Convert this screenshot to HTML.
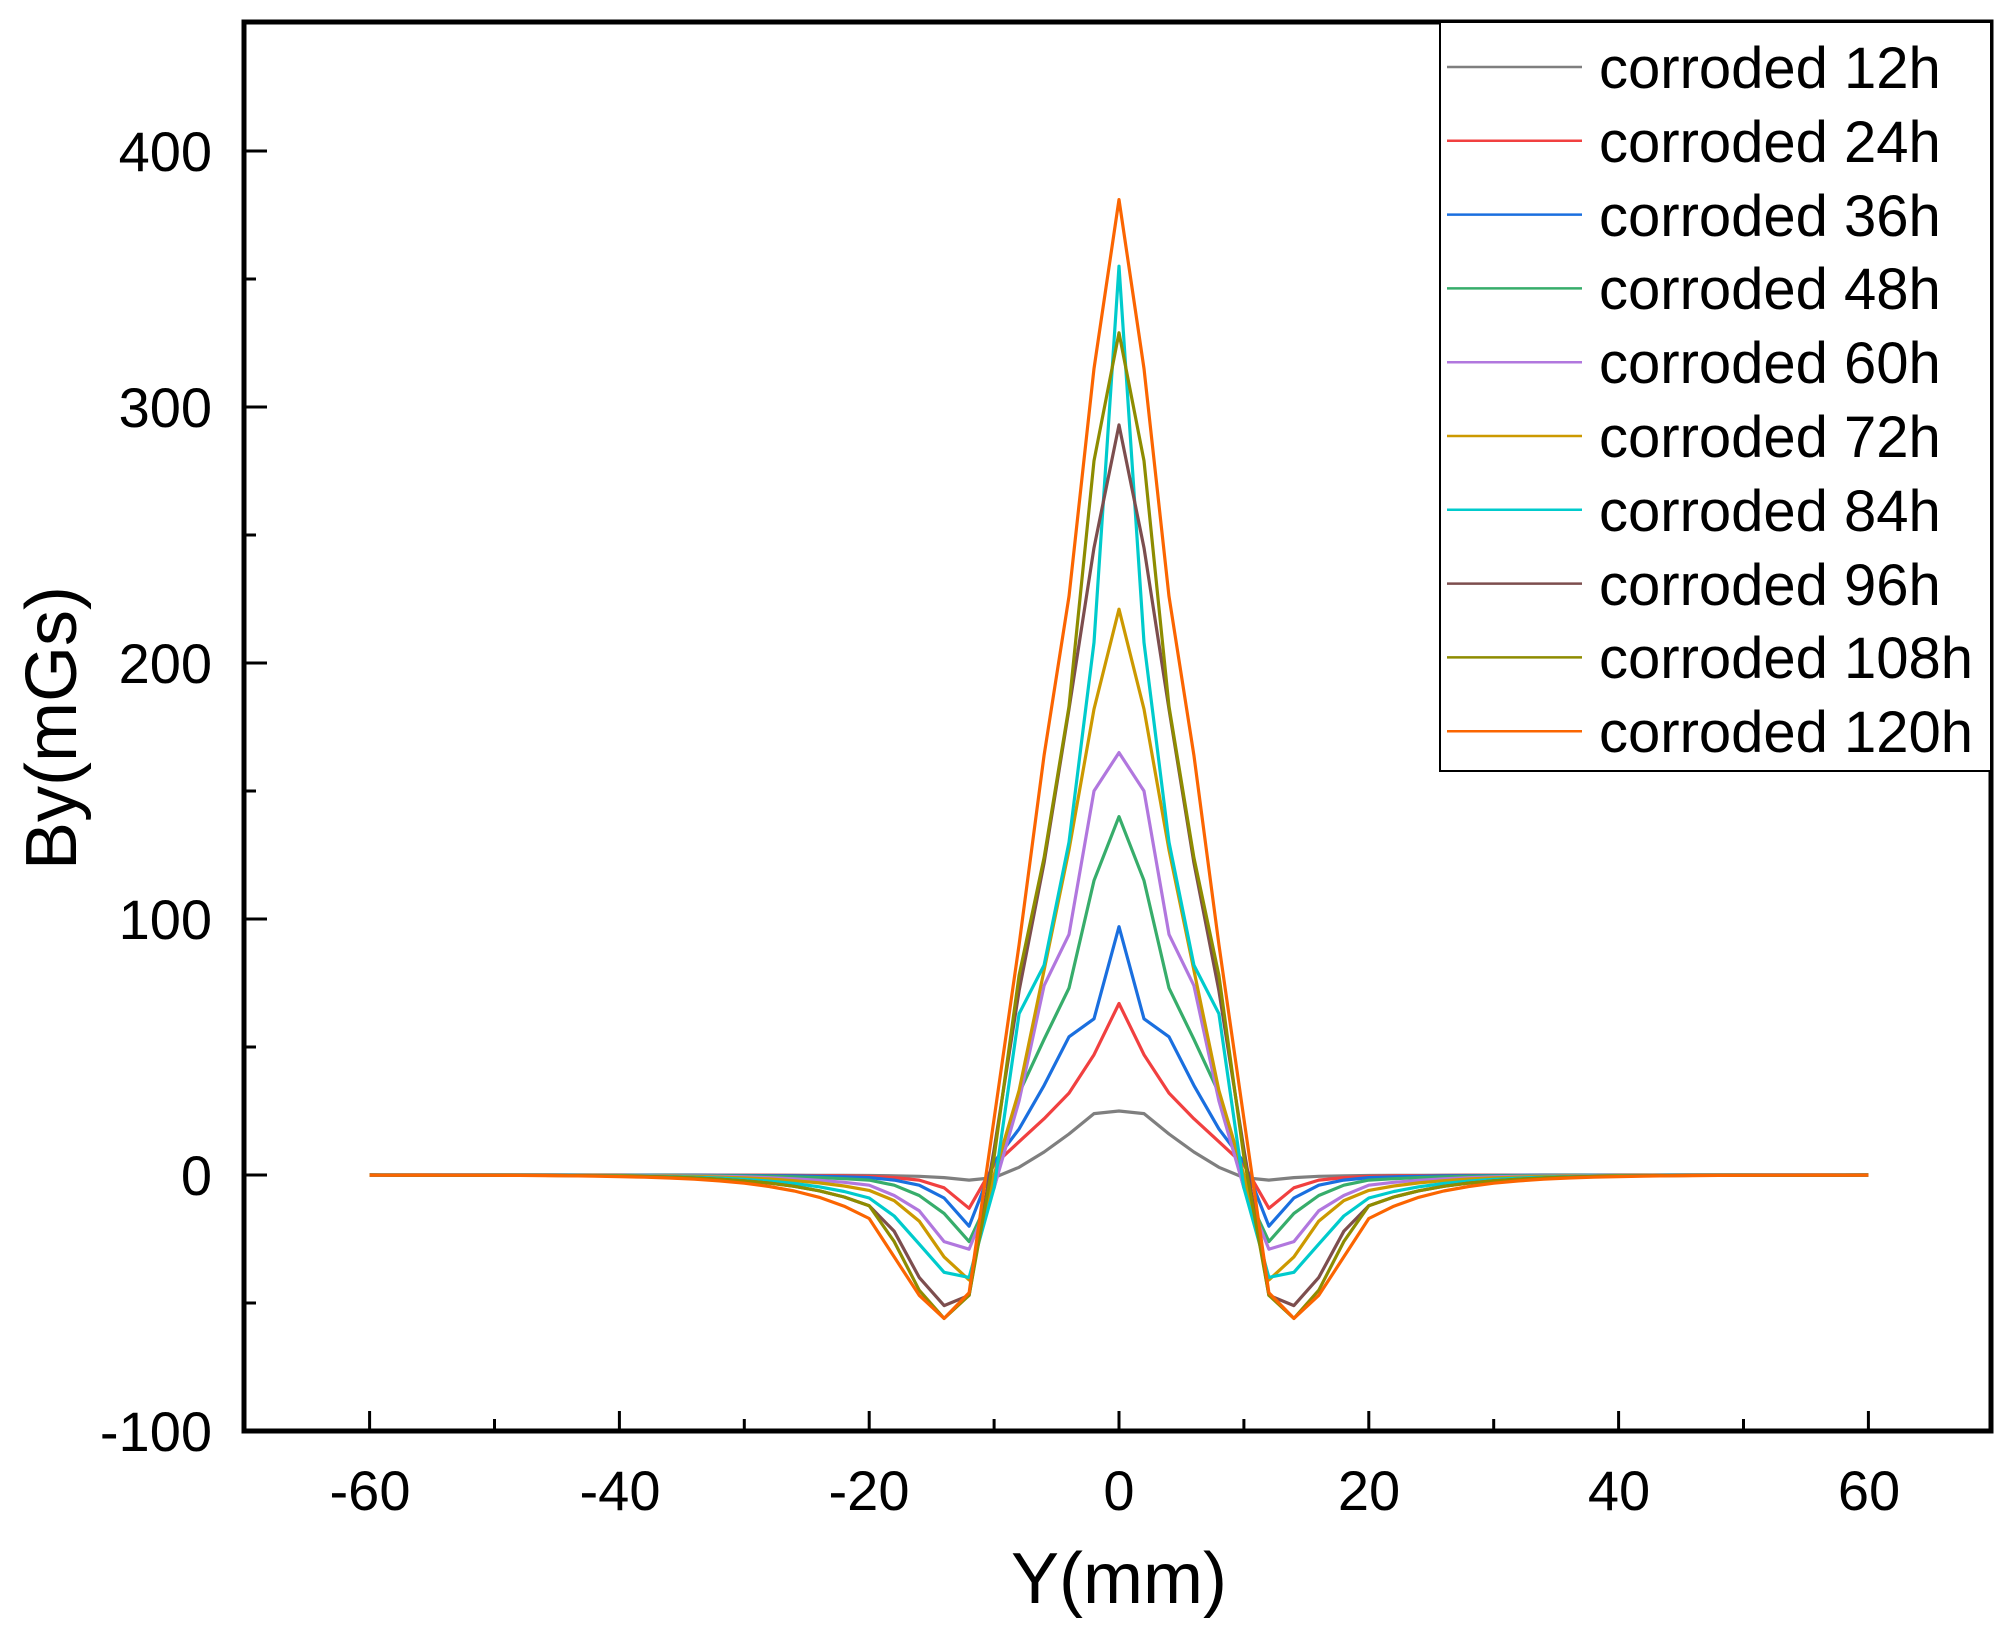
<!DOCTYPE html>
<html><head><meta charset="utf-8"><style>
html,body{margin:0;padding:0;background:#fff;}
svg{display:block;font-family:"Liberation Sans",Arial,sans-serif;}
</style></head><body>
<svg id="s" width="2014" height="1629" viewBox="0 0 2014 1629" xmlns="http://www.w3.org/2000/svg">
<rect width="2014" height="1629" fill="#fff"/>
<g id="series" fill="none" stroke-width="3.2" stroke-linejoin="round"></g>
<g id="ticks" stroke="#000" stroke-width="3"></g>
<rect x="244" y="22" width="1747" height="1409" fill="none" stroke="#000" stroke-width="5"/>
<g font-size="56" text-anchor="middle">
<text x="370" y="1510">-60</text>
<text x="620" y="1510">-40</text>
<text x="869" y="1510">-20</text>
<text x="1119" y="1510">0</text>
<text x="1369" y="1510">20</text>
<text x="1619" y="1510">40</text>
<text x="1869" y="1510">60</text>
</g>
<g font-size="56" text-anchor="end">
<text x="212" y="171">400</text>
<text x="212" y="427">300</text>
<text x="212" y="683">200</text>
<text x="212" y="939">100</text>
<text x="212" y="1195">0</text>
<text x="212" y="1451">-100</text>
</g>
<text x="1119" y="1603" font-size="72" text-anchor="middle">Y(mm)</text>
<text transform="translate(76,728) rotate(-90)" font-size="72" text-anchor="middle">By(mGs)</text>
<rect x="1440" y="22" width="551" height="749" fill="#fff" stroke="#000" stroke-width="2"/>
<g id="leg" font-size="58">
<text x="1599" y="88">corroded 12h</text>
<text x="1599" y="162">corroded 24h</text>
<text x="1599" y="236">corroded 36h</text>
<text x="1599" y="309">corroded 48h</text>
<text x="1599" y="383">corroded 60h</text>
<text x="1599" y="457">corroded 72h</text>
<text x="1599" y="531">corroded 84h</text>
<text x="1599" y="605">corroded 96h</text>
<text x="1599" y="678">corroded 108h</text>
<text x="1599" y="752">corroded 120h</text>
</g>
<g id="legl" stroke-width="2.5"></g>
</svg>
<script>
var X=function(v){return 1119+v*12.49;},Y=function(v){return 1175-v*2.56;};
var cols=["#7F7F7F","#F14040","#1A6FDF","#37AD6B","#B177DE","#CC9900","#00CBCC","#7D4E4E","#8E8C00","#FB6501"];
var d=[[25,24,16,9,3,-1,-2,-1,-0.5,-0.3,-0.2],
[67,47,32,22,13,4,-13,-5,-2,-1,-0.5],
[97,61,54,35,18,5,-20,-9,-4,-2,-1],
[140,115,73,53,32,-5,-26,-15,-8,-4,-2],
[165,150,94,74,29,-5,-29,-26,-14,-8,-4],
[221,182,127,80,33,0,-41,-32,-18,-10,-6],
[355,208,130,82,63,-5,-40,-38,-27,-16,-9],
[293,245,182,122,72,10,-47,-51,-40,-22,-12],
[329,279,183,124,78,7,-47,-56,-45,-26,-12],
[381,315,226,164,90,22,-46,-56,-47,-32,-17]];
var ns="http://www.w3.org/2000/svg",g=document.getElementById("series");
d.forEach(function(a,i){
 function val(x){var ax=Math.abs(x);if(ax<=20)return a[ax/2];return a[10]*Math.exp(-(ax-20)/6);}
 var pts=[];for(var x=-60;x<=60;x+=2)pts.push(X(x).toFixed(1)+","+Y(val(x)).toFixed(1));
 var p=document.createElementNS(ns,"polyline");p.setAttribute("points",pts.join(" "));p.setAttribute("stroke",cols[i]);g.appendChild(p);
 var l=document.createElementNS(ns,"line");var yy=67+i*73.8;
 l.setAttribute("x1",1447);l.setAttribute("x2",1582);l.setAttribute("y1",yy);l.setAttribute("y2",yy);l.setAttribute("stroke",cols[i]);
 document.getElementById("legl").appendChild(l);
});
var t=document.getElementById("ticks");
function ln(a,b,c,e){var l=document.createElementNS(ns,"line");l.setAttribute("x1",a);l.setAttribute("y1",b);l.setAttribute("x2",c);l.setAttribute("y2",e);t.appendChild(l);}
for(var x=-60;x<=60;x+=10){var L=(x%20==0)?20:12;ln(X(x),1431,X(x),1431-L);}
for(var v=-50;v<=400;v+=50){var L=(v%100==0)?23:12;ln(244,Y(v),244+L,Y(v));}
</script>
</body></html>
